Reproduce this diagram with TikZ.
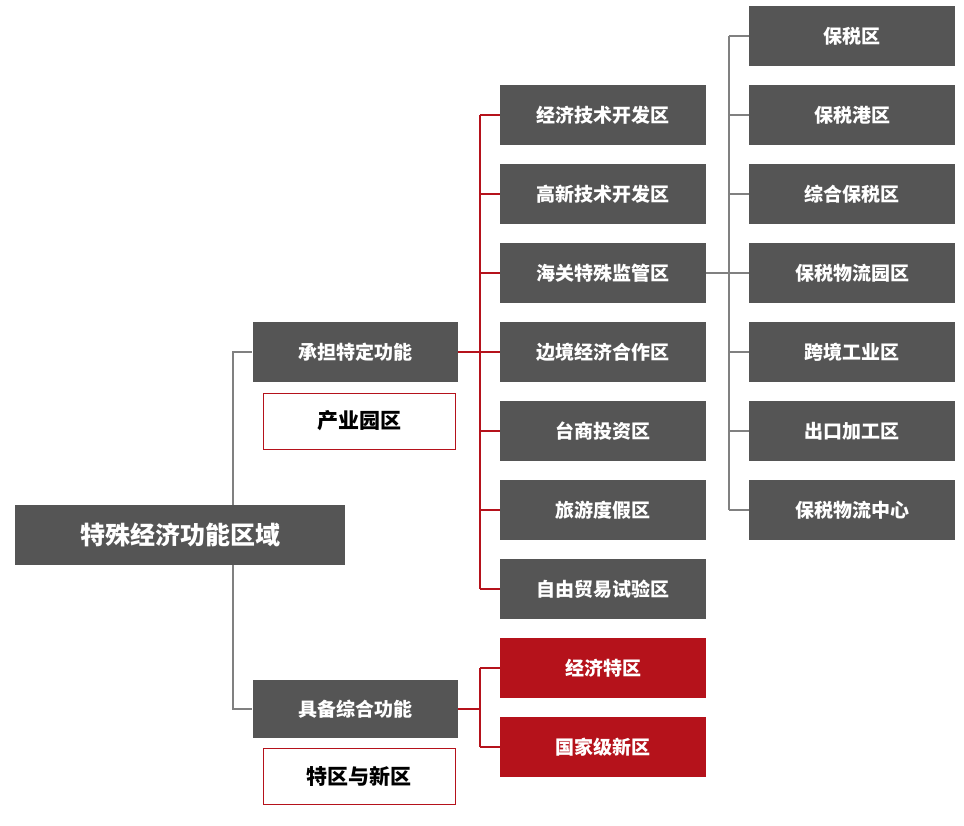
\documentclass[tikz,border=0pt]{standalone}
\usepackage{fontspec}
\newfontfamily\cjk{Noto Sans CJK SC}
\usetikzlibrary{positioning}
\definecolor{boxgray}{HTML}{555555}
\definecolor{zred}{HTML}{B5121B}
\tikzset{
  dark/.style={fill=boxgray, text=white, font=\cjk\bfseries\fontsize{19}{19}\selectfont, minimum width=206pt, minimum height=60pt, inner sep=0pt},
  hot/.style={dark, fill=zred},
  tag/.style={draw=zred, fill=white, text=black, font=\cjk\bfseries\fontsize{21}{21}\selectfont, minimum width=192pt, minimum height=56pt, inner sep=0pt},
  link/.style={draw=gray, line width=1.2pt},
  redlink/.style={draw=zred, line width=1.2pt}
}
\begin{document}
\begin{tikzpicture}[x=1pt, y=-1pt]
    \useasboundingbox (0,0) rectangle (964,826);
    % Root and branches
    \node [dark, minimum width=330pt, font=\cjk\bfseries\fontsize{25}{25}\selectfont] (root) at (180,535) {特殊经济功能区域};
    \node [dark, minimum width=205pt] (chengdan) at (355,352) {承担特定功能};
    \node [tag] (chanye) at (359,421) {产业园区};
    \node [dark, minimum width=205pt, minimum height=58pt] (jubei) at (355,709) {具备综合功能};
    \node [tag] (tequ) at (359,776) {特区与新区};

    % Second column
    \foreach \t [count=\i] in {经济技术开发区,高新技术开发区,海关特殊监管区,边境经济合作区,台商投资区,旅游度假区,自由贸易试验区}
        \node [dark] (mid\i) at (603,{115+79*(\i-1)}) {\t};
    \node [hot] (tezone) at (603,668) {经济特区};
    \node [hot] (xinqu) at (603,747) {国家级新区};

    % Third column
    \foreach \t [count=\i] in {保税区,保税港区,综合保税区,保税物流园区,跨境工业区,出口加工区,保税物流中心}
        \node [dark] (bs\i) at (852,{36+79*(\i-1)}) {\t};

    % Connectors from the root
    \coordinate (rootbus) at (233,352);
    \draw [link] (root.north -| rootbus) -- (rootbus) -- (chengdan.west);
    \draw [link] (root.south -| rootbus) |- (jubei.west);

    % Connectors to the second column
    \coordinate (midbus) at (480,352);
    \draw [redlink] (chengdan.east) -- (midbus);
    \draw [redlink] (mid1.west -| midbus) -- (mid7.west -| midbus);
    \foreach \i in {1,...,7}
        \draw [redlink] (mid\i.west -| midbus) -- (mid\i.west);
    \draw [redlink] (jubei.east) -- (jubei.east -| midbus);
    \draw [redlink] (tezone.west -| midbus) -- (xinqu.west -| midbus);
    \draw [redlink] (tezone.west -| midbus) -- (tezone.west);
    \draw [redlink] (xinqu.west -| midbus) -- (xinqu.west);

    % Connectors to the third column
    \coordinate (bsbus) at (729,273);
    \draw [link] (mid3.east) -- (bsbus);
    \draw [link] (bs1.west -| bsbus) -- (bs7.west -| bsbus);
    \foreach \i in {1,...,7}
        \draw [link] (bs\i.west -| bsbus) -- (bs\i.west);
\end{tikzpicture}
\end{document}
